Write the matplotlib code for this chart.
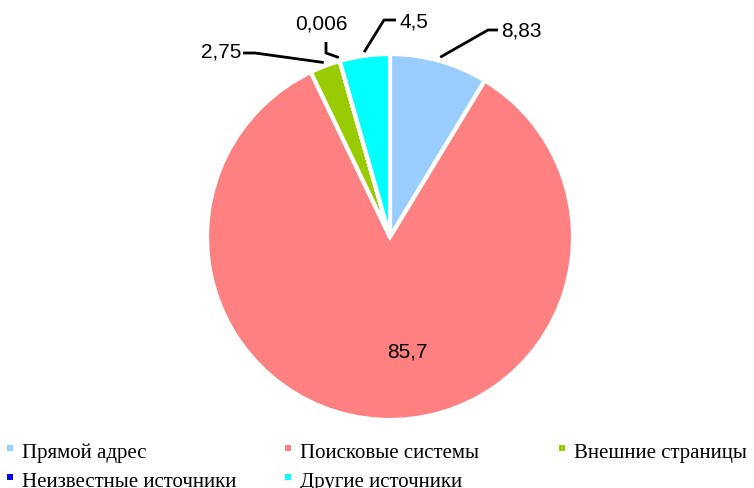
import numpy as np
import matplotlib
matplotlib.use("Agg")
import matplotlib.pyplot as plt
from matplotlib.patches import Rectangle

# ============================================================
# DATA
# ============================================================

categories = [
    "Прямой адрес",
    "Поисковые системы",
    "Внешние страницы",
    "Неизвестные источники",
    "Другие источники",
]

values = [8.83, 85.7, 2.75, 0.006, 4.5]

value_labels = ["8,83", "85,7", "2,75", "0,006", "4,5"]

colors = ["#99CCFF", "#FF8080", "#99CC00", "#0000FF", "#00FFFF"]

# ============================================================
# LAYOUT (pixels -> data units, pie radius = 1)
# ============================================================

W, H = 754, 488
CX, CY, R = 390, 237, 183


def px(x, y):
    return (x - CX) / R, (CY - y) / R


# leader line points (pixel coords), text anchor, alignment
leaders = {
    0: dict(pts=[(498, 30), (488, 30)], text=(501, 31), ha="left"),
    2: dict(pts=[(243, 53), (255, 53)], text=(241, 52), ha="right"),
    3: dict(pts=[(326, 42), (326, 53)], text=(321, 24), ha="center"),
    4: dict(pts=[(396, 20), (384, 20)], text=(399, 22), ha="left"),
}

# ============================================================
# PLOT
# ============================================================

fig = plt.figure(figsize=(W / 100, H / 100), dpi=100)
ax = fig.add_axes([0, 0, 1, 1])

wedges, _ = ax.pie(
    values,
    colors=colors,
    startangle=90,
    counterclock=False,
    radius=1,
    wedgeprops=dict(edgecolor="white", linewidth=3),
)

ax.set_xlim(px(0, 0)[0], px(W, 0)[0])
ax.set_ylim(px(0, H)[1], px(0, 0)[1])
ax.set_aspect("auto")
ax.axis("off")

for i, w in enumerate(wedges):
    mid = np.deg2rad((w.theta1 + w.theta2) / 2)
    if i == 1:
        # label inside the big wedge
        lx, ly = px(407, 352)
        ax.text(
            lx, ly, value_labels[i],
            fontsize=15, family="Liberation Sans",
            ha="center", va="center",
        )
        continue
    cfg = leaders[i]
    ex, ey = 1.02 * np.cos(mid), 1.02 * np.sin(mid)
    pts = [px(*p) for p in cfg["pts"]]
    xs = [p[0] for p in pts] + [ex]
    ys = [p[1] for p in pts] + [ey]
    ax.plot(xs, ys, color="black", linewidth=2, solid_capstyle="butt")
    tx, ty = px(*cfg["text"])
    ax.text(
        tx, ty, value_labels[i],
        fontsize=15, family="Liberation Sans",
        ha=cfg["ha"], va="center",
    )

# legend
col_x = [7, 285, 559]
row_y = [448, 477]
for i, (name, c) in enumerate(zip(categories, colors)):
    col = i % 3
    row = i // 3
    mx, my = col_x[col], row_y[row]
    fig.patches.append(
        Rectangle(
            (mx / W, 1 - (my + 3) / H), 6 / W, 6 / H,
            transform=fig.transFigure, facecolor=c, edgecolor="none",
        )
    )
    fig.text(
        (mx + 15) / W, 1 - (my + 10) / H, name,
        fontsize=15, family="Liberation Serif",
        ha="left", va="baseline",
    )

fig.savefig("out.png", dpi=100)
